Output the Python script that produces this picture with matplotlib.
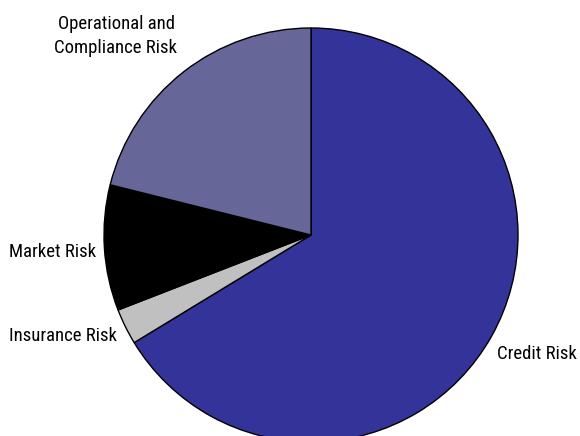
import matplotlib
matplotlib.use("Agg")
import matplotlib.pyplot as plt

categories = ["Credit Risk", "Insurance Risk", "Market Risk", "Operational and\nCompliance Risk"]
values = [66.3, 2.8, 9.8, 21.1]
colors = ["#333399", "#c0c0c0", "#000000", "#666699"]

plt.rcParams['font.family'] = ['Roboto Condensed', 'DejaVu Sans']

W, H = 580, 436
fig = plt.figure(figsize=(W / 100, H / 100), dpi=100)
cx, cy, r = 311, 235, 207
ax = fig.add_axes([(cx - r) / W, (H - cy - r) / H, 2 * r / W, 2 * r / H])
wedges, _ = ax.pie(values, colors=colors, startangle=90, counterclock=False,
                   radius=1, wedgeprops=dict(edgecolor="black", linewidth=1.0))
for w in wedges:
    w.set_clip_on(False)
ax.set_xlim(-1, 1)
ax.set_ylim(-1, 1)
ax.set_aspect("equal")
ax.axis("off")

def px(x, y):
    return x / W, 1 - y / H

fs = 13.5
fig.text(*px(116, 36), categories[3], ha="center", va="center", fontsize=fs, linespacing=1.4)
fig.text(*px(96, 252), categories[2], ha="right", va="center", fontsize=fs)
fig.text(*px(117, 336), categories[1], ha="right", va="center", fontsize=fs)
fig.text(*px(497, 354), categories[0], ha="left", va="center", fontsize=fs)

fig.savefig("out.png", dpi=100)
